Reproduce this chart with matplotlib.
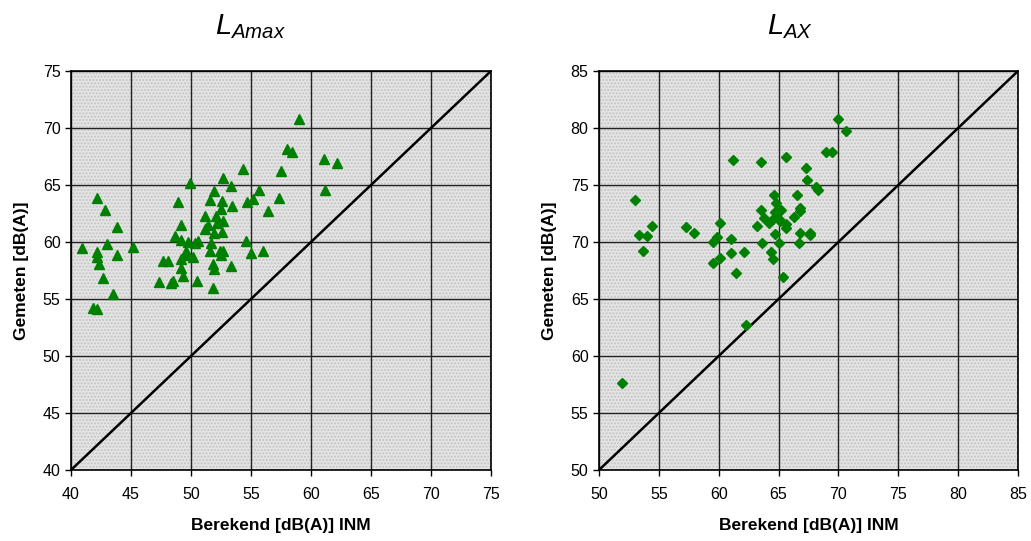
import numpy as np
import matplotlib
matplotlib.use('Agg')
import matplotlib.pyplot as plt
from matplotlib.patches import Rectangle

plt.rcParams['font.family'] = 'Liberation Sans'
plt.rcParams['mathtext.fontset'] = 'custom'
plt.rcParams['mathtext.it'] = 'Liberation Sans:italic'
plt.rcParams['mathtext.rm'] = 'Liberation Sans'

# LAmax: berekend (INM) vs gemeten
lamax_x = [59.0, 58.0, 58.4, 61.1, 62.2, 61.2, 54.3, 57.5, 52.7, 53.3,
           49.9, 55.7, 57.3, 51.95, 42.15, 42.8, 48.9, 51.6, 52.6, 54.7,
           55.2, 53.4, 52.5, 56.4, 43.85, 51.2, 52.1, 52.2, 52.7, 51.45,
           51.2, 51.9, 52.6, 49.2, 40.95, 43.0, 45.2, 42.15, 42.2, 42.3,
           43.85, 48.7, 49.2, 49.75, 50.3, 50.6, 49.6, 49.5, 49.2, 50.2,
           51.7, 51.6, 52.4, 52.7, 52.5, 54.6, 55.0, 56.0, 47.7, 48.1,
           51.8, 53.3, 49.2, 51.9, 42.7, 43.5, 47.3, 48.3, 48.5, 49.3,
           50.5, 51.8, 41.8, 42.15]
lamax_y = [70.8, 68.2, 67.9, 67.3, 66.9, 64.6, 66.4, 66.2, 65.6, 64.9,
           65.2, 64.6, 63.9, 64.5, 63.9, 62.8, 63.5, 63.7, 63.6, 63.5,
           63.8, 63.2, 62.9, 62.7, 61.3, 62.3, 62.3, 61.7, 61.8, 61.5,
           61.1, 60.8, 60.9, 61.5, 59.5, 59.8, 59.6, 59.1, 58.7, 58.1,
           58.9, 60.5, 60.2, 60.0, 59.9, 60.1, 59.2, 58.9, 58.5, 58.7,
           59.9, 59.2, 59.2, 59.2, 58.9, 60.05, 59.0, 59.2, 58.3, 58.3,
           58.1, 57.9, 57.7, 57.6, 56.8, 55.4, 56.5, 56.4, 56.6, 57.0,
           56.6, 56.0, 54.2, 54.1]

# LAX: berekend (INM) vs gemeten
lax_x = [70.0, 70.6, 69.0, 69.5, 65.6, 61.2, 63.5, 67.3, 67.4, 68.1,
         68.3, 64.6, 66.5, 64.8, 66.75, 66.8, 53.0, 63.5, 65.2, 64.7,
         64.9, 63.8, 66.3, 64.5, 65.0, 64.2, 65.1, 65.6, 65.6, 54.4,
         57.3, 57.9, 60.1, 63.2, 53.3, 54.0, 53.7, 64.7, 66.75, 67.6,
         67.65, 63.6, 65.0, 66.7, 59.5, 59.85, 61.0, 61.0, 62.1, 64.4,
         64.5, 59.5, 60.1, 61.45, 65.35, 62.3, 51.9]
lax_y = [80.8, 79.7, 77.9, 77.9, 77.5, 77.2, 77.0, 76.5, 75.4, 74.8,
         74.6, 74.1, 74.1, 73.4, 73.0, 72.7, 73.7, 72.8, 72.8, 72.6,
         72.65, 72.1, 72.2, 72.0, 72.0, 71.7, 71.8, 71.6, 71.2, 71.4,
         71.3, 70.8, 71.7, 71.4, 70.6, 70.5, 69.2, 70.7, 70.8, 70.8,
         70.6, 69.95, 69.9, 69.9, 70.0, 70.4, 70.3, 69.0, 69.1, 69.1,
         68.5, 68.2, 68.6, 67.3, 66.9, 62.75, 57.6]

fig = plt.figure(figsize=(10.31, 5.41), dpi=100)
ax1 = fig.add_axes([71/1031, 71/541, 420/1031, 399/541])
ax2 = fig.add_axes([599/1031, 71/541, 419/1031, 399/541])


def style(ax, lo, hi, xs, ys, marker, ms):
    ax.set_xlim(lo, hi)
    ax.set_ylim(lo, hi)
    ax.set_facecolor('#e4e4e4')
    ax.add_patch(Rectangle((0, 0), 1, 1, transform=ax.transAxes, facecolor='none',
                           edgecolor='#c4c4c4', hatch='.....', linewidth=0, zorder=0))
    ticks = np.arange(lo, hi + 1, 5)
    ax.set_xticks(ticks)
    ax.set_yticks(ticks)
    ax.grid(True, color='#222222', linewidth=1.0)
    ax.set_axisbelow(True)
    ax.plot([lo, hi], [lo, hi], color='black', linewidth=1.8, zorder=2)
    ax.plot(xs, ys, linestyle='none', marker=marker, markersize=ms,
            color='#008000', markeredgecolor='#008000', zorder=3)
    ax.tick_params(direction='out', length=4, width=1, labelsize=11.5, colors='black')
    ax.tick_params(axis='x', pad=8)
    for s in ax.spines.values():
        s.set_linewidth(1.2)
        s.set_color('black')
    ax.set_xlabel('Berekend [dB(A)] INM', fontsize=12.5, fontweight='bold', labelpad=12)
    ax.set_ylabel('Gemeten [dB(A)]', fontsize=12.5, fontweight='bold', labelpad=10)


style(ax1, 40, 75, lamax_x, lamax_y, '^', 7.5)
style(ax2, 50, 85, lax_x, lax_y, 'D', 5.5)

fig.text(250/1031, 1 - 27/541, r'$\mathit{L}_{\mathit{Amax}}$', fontsize=21,
         ha='center', va='center')
fig.text(790/1031, 1 - 27/541, r'$\mathit{L}_{\mathit{AX}}$', fontsize=21,
         ha='center', va='center')

fig.savefig('out.png', dpi=100)
